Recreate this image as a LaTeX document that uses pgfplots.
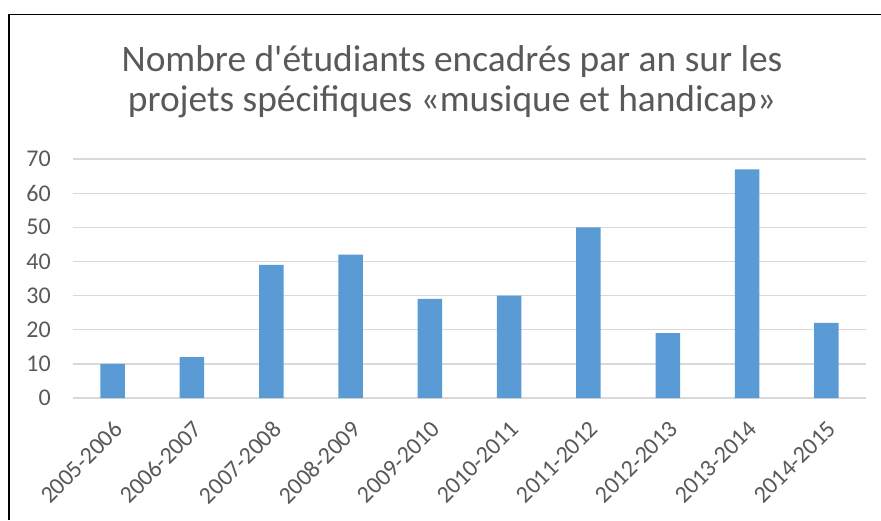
\documentclass[border=0pt]{standalone}
\usepackage{pgfplots}
\pgfplotsset{compat=1.18}
\usepackage{fontspec}
\setmainfont[Ligatures=TeXOff]{Carlito}
\definecolor{barblue}{HTML}{5B9BD5}
\definecolor{gridgray}{HTML}{D9D9D9}
\definecolor{txtgray}{HTML}{595959}
\begin{document}
\begin{tikzpicture}[x=1pt,y=1pt]
\path[use as bounding box] (0,0) rectangle (881,520);
\begin{axis}[
  at={(73pt,122pt)}, anchor=south west,
  scale only axis, width=793pt, height=239pt,
  xmin=-0.5, xmax=9.5, ymin=0, ymax=70,
  ybar, bar width=24.5pt,
  axis line style={draw=none},
  ymajorgrids, grid style={gridgray, line width=1.3pt},
  major tick length=0pt,
  ytick={0,10,...,70},
  xtick={0,...,9},
  xticklabels={2005-2006,2006-2007,2007-2008,2008-2009,2009-2010,2010-2011,2011-2012,2012-2013,2013-2014,2014-2015},
  x tick label style={rotate=45, anchor=north east, inner sep=0pt, xshift=-15pt, yshift=-15pt},
  y tick label style={anchor=east, inner sep=0pt, xshift=-22pt},
  tick label style={font=\fontsize{24}{28}\selectfont, text=txtgray},
  /pgf/number format/assume math mode=true,
  clip=false,
]
\draw[gridgray, line width=1.3pt] (axis cs:-0.5,0) -- (axis cs:9.5,0);
\addplot[fill=barblue, draw=none] coordinates {(0,10) (1,12) (2,39) (3,42) (4,29) (5,30) (6,50) (7,19) (8,67) (9,22)};
\end{axis}
\node[text=txtgray, font=\fontsize{37.4}{44}\selectfont] at (452,458) {Nombre d'étudiants encadrés par an sur les};
\node[text=txtgray, font=\fontsize{37.4}{44}\selectfont] at (452,418) {projets spécifiques «musique et handicap»};
\draw[line width=1.6pt, black] (9,0) -- (9,505.5) -- (881,505.5);
\end{tikzpicture}
\end{document}
